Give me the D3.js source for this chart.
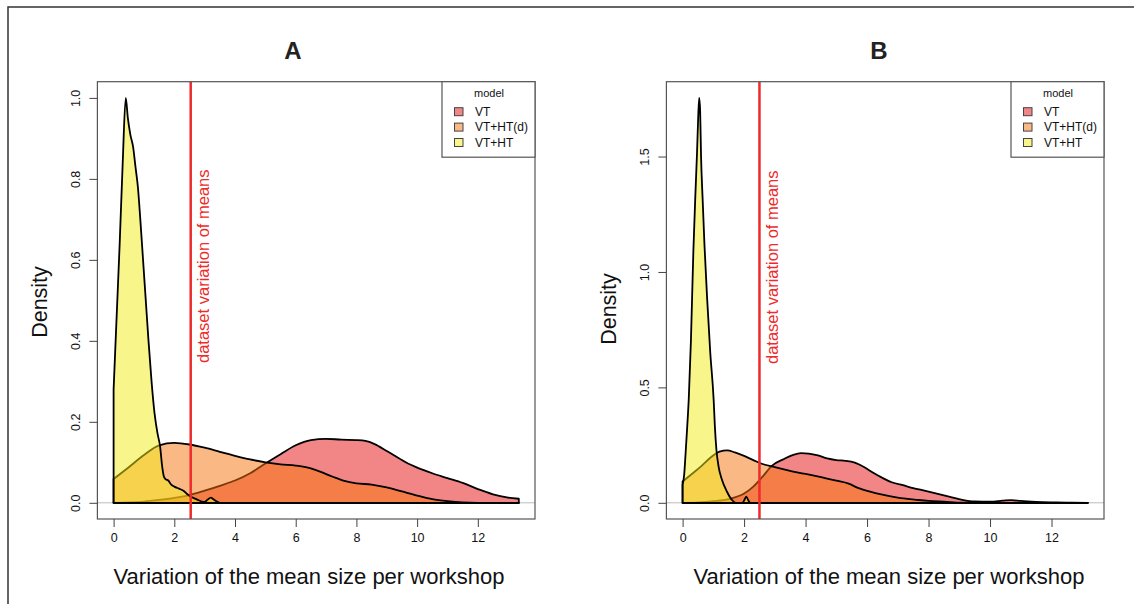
<!DOCTYPE html>
<html>
<head>
<meta charset="utf-8">
<script src="https://cdn.jsdelivr.net/npm/d3@7"></script>
<style>
  body { margin: 0; background: #fff; }
  text { font-family: "Liberation Sans", Arial, Helvetica, sans-serif; }
</style>
</head>
<body>
<svg id="chart" width="1134" height="604"></svg>
<script>
// density estimates, [x, density]
var models = ['VT', 'VT+HT(d)', 'VT+HT'];
var modelColors = ['rgb(230,14,14)', 'rgb(245,115,10)', 'rgb(242,236,22)'];

// panel A
var aVT = [[0,0],[0.5,0.001],[1,0.003],[1.5,0.007],[2,0.012],[2.5,0.019],[3,0.03],[3.5,0.042],[4,0.055],[4.5,0.073],[5,0.097],[5.5,0.12],[6,0.142],[6.5,0.155],[7,0.158],[7.5,0.156],[8,0.155],[8.3,0.153],[8.6,0.145],[9,0.128],[9.4,0.11],[9.7,0.097],[10,0.087],[10.5,0.073],[11,0.061],[11.5,0.049],[12,0.034],[12.5,0.021],[13,0.013],[13.35,0.01]];
var aVTHTd = [[0,0.059],[0.5,0.088],[1,0.118],[1.5,0.142],[2,0.148],[2.5,0.144],[3,0.136],[3.5,0.126],[4,0.116],[4.5,0.107],[5,0.1],[5.5,0.095],[6,0.092],[6.4,0.087],[6.8,0.077],[7.2,0.065],[7.6,0.054],[8,0.048],[8.5,0.045],[9,0.038],[9.5,0.028],[10,0.018],[10.5,0.009],[11,0.004],[11.5,0.001],[12,0],[13.35,0]];
var aVTHT = [[0,0.28],[0.1,0.46],[0.2,0.64],[0.3,0.84],[0.4,1.0],[0.47,0.95],[0.55,0.91],[0.64,0.88],[0.72,0.83],[0.8,0.78],[0.88,0.7],[0.97,0.6],[1.06,0.5],[1.15,0.4],[1.25,0.3],[1.35,0.22],[1.45,0.17],[1.53,0.14],[1.6,0.09],[1.66,0.064],[1.72,0.058],[1.8,0.055],[1.9,0.045],[2,0.04],[2.15,0.035],[2.3,0.03],[2.45,0.02],[2.6,0.013],[2.75,0.008],[2.9,0.003],[3,0.002],[3.1,0.008],[3.2,0.013],[3.3,0.008],[3.4,0.003],[3.5,0],[13.35,0]];
var aCut = 2.54;
var aYTicks = [0, 0.2, 0.4, 0.6, 0.8, 1.0];

// panel B
var bVT = [[0,0],[0.5,0.002],[1,0.007],[1.5,0.016],[2,0.04],[2.3,0.07],[2.6,0.113],[2.9,0.16],[3.3,0.19],[3.6,0.208],[3.85,0.215],[4.1,0.213],[4.4,0.205],[4.7,0.192],[5,0.185],[5.3,0.182],[5.6,0.174],[5.9,0.155],[6.2,0.13],[6.5,0.108],[6.8,0.089],[7.2,0.075],[7.5,0.064],[7.9,0.052],[8.3,0.039],[8.7,0.026],[9.1,0.013],[9.5,0.006],[10,0.005],[10.4,0.009],[10.7,0.012],[11,0.008],[11.5,0.004],[12,0.002],[12.5,0.001],[13.18,0]];
var bVTHTd = [[0,0.092],[0.3,0.125],[0.6,0.158],[0.9,0.195],[1.2,0.222],[1.45,0.227],[1.7,0.218],[2,0.203],[2.3,0.185],[2.6,0.168],[3,0.155],[3.4,0.142],[3.8,0.13],[4.2,0.12],[4.6,0.108],[5,0.096],[5.4,0.083],[5.7,0.065],[6.1,0.048],[6.5,0.035],[7,0.022],[7.6,0.013],[8,0.008],[8.5,0.005],[9.1,0.001],[10,0],[13.18,0]];
var bVTHT = [[0,0.078],[0.05,0.12],[0.1,0.22],[0.15,0.33],[0.2,0.45],[0.27,0.7],[0.35,1.09],[0.42,1.35],[0.47,1.52],[0.51,1.68],[0.54,1.754],[0.57,1.7],[0.6,1.5],[0.65,1.32],[0.71,1.12],[0.8,0.88],[0.9,0.65],[1.01,0.446],[1.05,0.33],[1.1,0.23],[1.17,0.157],[1.28,0.1],[1.44,0.049],[1.6,0.013],[1.72,0],[1.95,0],[2,0.01],[2.07,0.027],[2.14,0.01],[2.2,0],[13.18,0]];
var bCut = 2.5;
var bYTicks = [0, 0.5, 1.0, 1.5];

var xTicks = [0, 2, 4, 6, 8, 10, 12];

var svg = d3.select('#chart');

// outer frame (top and left edges only)
svg.append('path')
  .attr('d', 'M8,604 L8,7 L1134,7')
  .attr('fill', 'none').attr('stroke', '#333').attr('stroke-width', 1.5);

function drawPanel(cfg) {
  var g = svg.append('g');
  var all = d3.merge(cfg.series);
  // R style 4% padding on both axes
  var xr = d3.extent(all, function (d) { return d[0]; }),
      yr = d3.extent(all, function (d) { return d[1]; }),
      xp = (xr[1] - xr[0]) * 0.04,
      yp = (yr[1] - yr[0]) * 0.04;
  var x = d3.scaleLinear().domain([xr[0] - xp, xr[1] + xp]).range([cfg.left, cfg.right]);
  var y = d3.scaleLinear().domain([yr[0] - yp, yr[1] + yp]).range([cfg.bottom, cfg.top]);

  // zero line
  g.append('line')
    .attr('x1', cfg.left).attr('x2', cfg.right)
    .attr('y1', y(0)).attr('y2', y(0))
    .attr('stroke', '#bbb').attr('stroke-width', 1);

  var area = d3.area()
    .x(function (d) { return x(d[0]); })
    .y0(y(0))
    .y1(function (d) { return y(d[1]); })
    .curve(d3.curveMonotoneX);

  cfg.series.forEach(function (s, i) {
    g.append('path')
      .attr('d', area(s))
      .attr('fill', modelColors[i]).attr('fill-opacity', 0.5)
      .attr('stroke', '#000').attr('stroke-width', 1.8)
      .attr('stroke-linejoin', 'round');
  });

  // observed value
  g.append('line')
    .attr('x1', x(cfg.cut)).attr('x2', x(cfg.cut))
    .attr('y1', cfg.top).attr('y2', cfg.bottom)
    .attr('stroke', '#ee2a2a').attr('stroke-width', 2.5);
  g.append('text')
    .attr('transform', 'translate(' + (x(cfg.cut) + 13) + ',' + cfg.labelY + ') rotate(-90)')
    .attr('dy', '0.35em')
    .attr('fill', '#ee2a2a').attr('font-size', 16.5)
    .text('dataset variation of means');

  // box
  g.append('rect')
    .attr('x', cfg.left).attr('y', cfg.top)
    .attr('width', cfg.right - cfg.left).attr('height', cfg.bottom - cfg.top)
    .attr('fill', 'none').attr('stroke', '#555').attr('stroke-width', 1.2);

  // x axis
  var xa = g.append('g')
    .attr('transform', 'translate(0,' + cfg.bottom + ')')
    .call(d3.axisBottom(x).tickValues(xTicks).tickSize(8).tickPadding(6).tickFormat(d3.format('d')));
  xa.select('.domain').remove();
  xa.selectAll('line').attr('stroke', '#444');
  xa.selectAll('text').attr('font-size', 12.5).attr('fill', '#111')
    .attr('font-family', '"Liberation Sans", Arial, sans-serif');

  // y axis, labels parallel to axis
  var ya = g.append('g')
    .attr('transform', 'translate(' + cfg.left + ',0)')
    .call(d3.axisLeft(y).tickValues(cfg.yTicks).tickSize(8).tickFormat(d3.format('.1f')));
  ya.select('.domain').remove();
  ya.selectAll('line').attr('stroke', '#444');
  ya.selectAll('text')
    .attr('font-size', 12.5).attr('fill', '#111')
    .attr('font-family', '"Liberation Sans", Arial, sans-serif')
    .attr('text-anchor', 'middle')
    .attr('x', null)
    .attr('transform', 'translate(-22,0) rotate(-90)')
    .attr('dy', '0.35em');

  // titles
  g.append('text')
    .attr('x', cfg.titleX).attr('y', 59)
    .attr('text-anchor', 'middle')
    .attr('font-size', 24).attr('font-weight', 'bold').attr('fill', '#222')
    .text(cfg.title);
  g.append('text')
    .attr('transform', 'translate(' + (cfg.left - 58) + ',' + cfg.densY + ') rotate(-90)')
    .attr('dy', '0.35em')
    .attr('text-anchor', 'middle')
    .attr('font-size', 21.5).attr('fill', '#111')
    .text('Density');
  g.append('text')
    .attr('x', cfg.xTitleX).attr('y', 584)
    .attr('text-anchor', 'middle')
    .attr('font-size', 22).attr('fill', '#111')
    .text('Variation of the mean size per workshop');

  // legend
  var lw = 93, lx = cfg.right - lw;
  var lg = g.append('g').attr('transform', 'translate(' + lx + ',' + cfg.top + ')');
  lg.append('rect')
    .attr('width', lw).attr('height', 75.5)
    .attr('fill', '#fff').attr('stroke', '#555').attr('stroke-width', 1.2);
  lg.append('text')
    .attr('x', 47).attr('y', 15)
    .attr('text-anchor', 'middle')
    .attr('font-size', 11).attr('fill', '#111')
    .text('model');
  models.forEach(function (m, i) {
    var yy = 30 + i * 15.4;
    lg.append('rect')
      .attr('x', 12.5).attr('y', yy - 4).attr('width', 8.5).attr('height', 8)
      .attr('fill', modelColors[i]).attr('fill-opacity', 0.5)
      .attr('stroke', '#444').attr('stroke-width', 1);
    lg.append('text')
      .attr('x', 33).attr('y', yy).attr('dy', '0.35em')
      .attr('font-size', 12).attr('fill', '#111')
      .text(m);
  });
}

drawPanel({
  series: [aVT, aVTHTd, aVTHT], cut: aCut, yTicks: aYTicks,
  left: 97.4, right: 535, top: 81.7, bottom: 519,
  title: 'A', titleX: 293, xTitleX: 309, densY: 302, labelY: 363
});
drawPanel({
  series: [bVT, bVTHTd, bVTHT], cut: bCut, yTicks: bYTicks,
  left: 666.4, right: 1104, top: 81.7, bottom: 519,
  title: 'B', titleX: 879, xTitleX: 889, densY: 309, labelY: 364
});
</script>
</body>
</html>
